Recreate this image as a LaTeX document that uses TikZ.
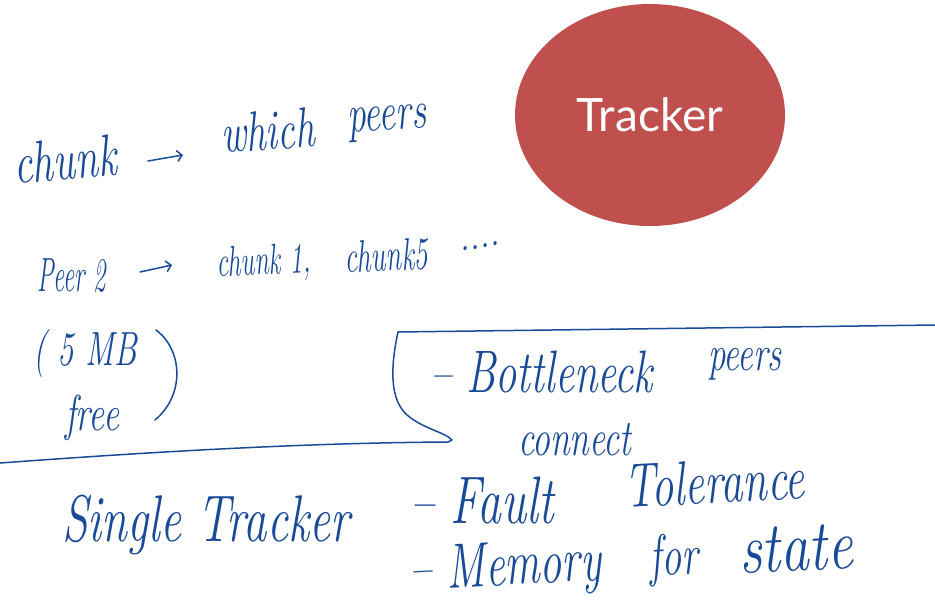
\documentclass[tikz,border=0pt]{standalone}
\usepackage{fontspec}
\usetikzlibrary{shapes.geometric,arrows.meta}
\newfontfamily\trkfont{Lato}
\definecolor{ink}{RGB}{24,74,152}
\definecolor{trkred}{RGB}{192,80,77}
% handwritten word: #1 = size, #2 = horizontal squeeze, #3 = text
\newcommand\hw[3]{\scalebox{#2}[1.2]{\fontsize{#1}{#1}\selectfont\itshape #3}}
\tikzset{
  note/.style={text=ink, inner sep=0pt, anchor=base west},
  pen/.style={draw=ink, line width=1.5pt, line cap=round, line join=round},
  penarrow/.style={pen, -{Straight Barb[length=5pt,width=11pt,line width=1.5pt]}}
}
\begin{document}
\begin{tikzpicture}[x=1pt,y=-1pt]
\useasboundingbox (0,0) rectangle (935,608);

% tracker
\node[ellipse, fill=trkred, minimum width=270pt, minimum height=222pt, inner sep=0pt,
      text=white, font=\trkfont\fontsize{46}{46}\selectfont] (tracker) at (650,115) {Tracker};

% chunk -> which peers
\node[note, rotate=5] (chunk) at (15,184) {\hw{49}{0.85}{chunk}};
\node[note, rotate=4] (which) at (222,153) {\hw{47}{0.83}{which}};
\node[note, rotate=4] (peers) at (348,133) {\hw{45}{0.83}{peers}};
\coordinate (a1s) at (148,161);
\coordinate (a1e) at (183,155);
\draw[penarrow] (a1s) -- (a1e);

% Peer 2 -> chunk 1, chunk5 ....
\node[note] (peer2) at (37,291) {\hw{40}{0.62}{Peer 2}};
\node[note, rotate=3] (c1) at (217,277) {\hw{36}{0.72}{chunk 1,}};
\node[note, rotate=3] (c5) at (345,273) {\hw{38}{0.74}{chunk5}};
\node[note, rotate=10] (dots) at (460,252) {\hw{34}{1}{....}};
\coordinate (a2s) at (140,272);
\coordinate (a2e) at (172,265);
\draw[penarrow] (a2s) -- (a2e);

% (5 MB free)
\node[note] (mb) at (33,365) {\hw{40}{0.82}{( 5 MB}};
\node[note] (free) at (65,430) {\hw{42}{0.85}{free}};
\draw[pen] (156,330) .. controls (183,350) and (185,395) .. (155,420);

% bracket around the bottleneck remark
\coordinate (topend) at (935,325);
\coordinate (lowend) at (0,463);
\draw[pen] (topend) -- (398,332) .. controls (392,360) and (388,395) .. (405,413)
  .. controls (420,428) and (445,432) .. (452,440) -- (448,442)
  .. controls (300,443) and (150,452) .. (lowend);

% - Bottleneck peers connect
\node[note] (bneck) at (430,392) {\hw{50}{0.85}{-- Bottleneck}};
\node[note] (bpeers) at (708,370) {\hw{42}{0.83}{peers}};
\node[note] (connect) at (518,455) {\hw{43}{0.83}{connect}};

% Single Tracker - Fault Tolerance - Memory for state
\node[note] (single) at (62,541) {\hw{55}{0.85}{Single Tracker}};
\node[note] (fault) at (410,523) {\hw{56}{0.85}{-- Fault}};
\node[note, rotate=3] (toler) at (625,508) {\hw{52}{0.85}{Tolerance}};
\node[note, rotate=3] (memory) at (410,590) {\hw{53}{0.83}{-- Memory}};
\node[note, rotate=3] (for) at (650,576) {\hw{48}{0.83}{for}};
\node[note, rotate=3] (state) at (740,574) {\hw{60}{0.95}{state}};
\end{tikzpicture}
\end{document}
